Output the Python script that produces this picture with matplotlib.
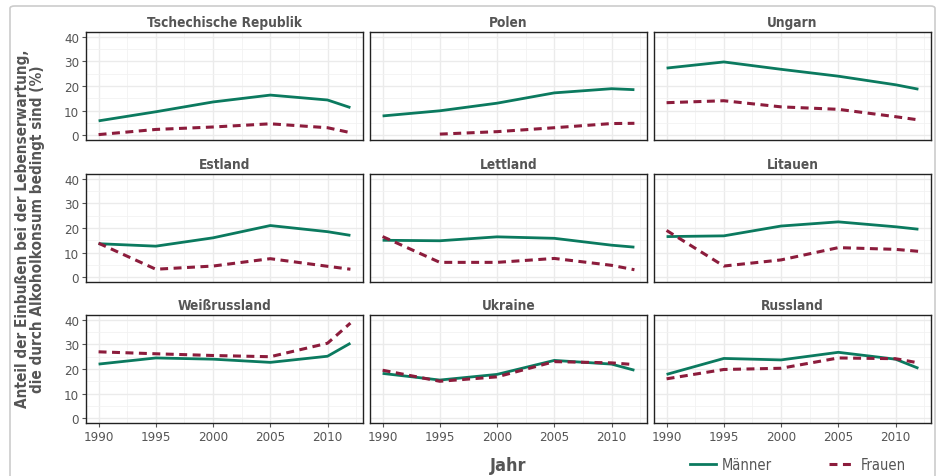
import numpy as np
import matplotlib
matplotlib.use("Agg")
import matplotlib.pyplot as plt
from matplotlib.lines import Line2D
from matplotlib.patches import FancyBboxPatch

plt.rcParams['font.family'] = ['DejaVu Sans']
plt.rcParams['font.stretch'] = 'condensed'

# Anteil der Einbußen bei der Lebenserwartung durch Alkohol (%)
years = [1990, 1995, 2000, 2005, 2010, 2012]
countries = ["Tschechische Republik", "Polen", "Ungarn",
             "Estland", "Lettland", "Litauen",
             "Weißrussland", "Ukraine", "Russland"]

maenner = {
    "Tschechische Republik": [5.8, 9.5, 13.5, 16.3, 14.3, 11.2],
    "Polen":                 [7.8, 9.9, 13.0, 17.2, 18.9, 18.5],
    "Ungarn":                [27.3, 29.8, 26.8, 24.0, 20.5, 18.7],
    "Estland":               [13.6, 12.6, 16.0, 21.0, 18.5, 17.0],
    "Lettland":              [15.0, 14.8, 16.4, 15.8, 13.0, 12.2],
    "Litauen":               [16.5, 16.8, 20.8, 22.5, 20.5, 19.5],
    "Weißrussland":          [22.0, 24.5, 24.0, 22.7, 25.2, 30.5],
    "Ukraine":               [18.2, 15.5, 17.8, 23.5, 22.0, 19.5],
    "Russland":              [17.8, 24.3, 23.7, 26.8, 24.0, 20.3],
}
frauen = {
    "Tschechische Republik": [0.2, 2.3, 3.3, 4.6, 3.0, 1.0],
    "Polen":                 [np.nan, 0.4, 1.4, 3.0, 4.7, 4.8],
    "Ungarn":                [13.2, 14.0, 11.5, 10.5, 7.5, 6.2],
    "Estland":               [13.8, 3.2, 4.5, 7.5, 4.4, 3.2],
    "Lettland":              [16.5, 6.0, 6.0, 7.6, 4.8, 3.0],
    "Litauen":               [19.0, 4.5, 7.0, 12.0, 11.3, 10.5],
    "Weißrussland":          [27.0, 26.2, 25.5, 25.0, 30.5, 38.7],
    "Ukraine":               [19.5, 15.0, 16.8, 23.0, 22.5, 21.8],
    "Russland":              [16.0, 19.8, 20.3, 24.5, 24.2, 22.5],
}

green = "#0b7a5f"
red = "#8c1c3c"
txt = "#555555"

fig = plt.figure(figsize=(9.38, 4.77), dpi=100)

# outer frame
fig.patches.append(FancyBboxPatch((10/938, -0.05), 925/938, 1 - 7/477 + 0.05,
                                  boxstyle="round,pad=0,rounding_size=0.005",
                                  transform=fig.transFigure, fill=False,
                                  edgecolor="#cccccc", linewidth=1.2))

lefts = [86/938, 370/938, 654/938]
bottoms = [1 - 141/477, 1 - 283/477, 1 - 424/477]
w = 277/938
h = 108/477

for i, c in enumerate(countries):
    r, col = divmod(i, 3)
    ax = fig.add_axes([lefts[col], bottoms[r], w, h])
    ax.set_xlim(1988.9, 2013.1)
    ax.set_ylim(-2, 42)
    ax.set_xticks([1990, 1995, 2000, 2005, 2010])
    ax.set_xticks(np.arange(1992.5, 2013, 5), minor=True)
    ax.set_yticks([0, 10, 20, 30, 40])
    ax.set_yticks([5, 15, 25, 35], minor=True)
    ax.grid(True, which="major", color="#ebebeb", linewidth=1.0)
    ax.grid(True, which="minor", color="#f2f2f2", linewidth=0.6)
    ax.set_axisbelow(True)
    for s in ax.spines.values():
        s.set_color("#222222")
        s.set_linewidth(1.0)
    ax.tick_params(which="major", length=3, color="#555555", labelcolor=txt,
                   labelsize=9.5, pad=2)
    ax.tick_params(which="minor", length=0)
    if col != 0:
        ax.set_yticklabels([])
        ax.tick_params(axis="y", length=0)
    if r != 2:
        ax.set_xticklabels([])
        ax.tick_params(axis="x", length=0)
    ax.plot(years, maenner[c], color=green, linewidth=2.0, solid_capstyle="butt")
    ax.plot(years, frauen[c], color=red, linewidth=2.2, linestyle=(0, (2.6, 1.8)))
    ax.set_title(c, fontsize=9.8, fontweight="bold", color=txt, pad=4)

fig.text(30/938, 0.52, "Anteil der Einbußen bei der Lebenserwartung,\ndie durch Alkoholkonsum bedingt sind (%)",
         rotation=90, ha="center", va="center", fontsize=11, fontweight="bold",
         color=txt, linespacing=1.05)
fig.text(508/938, 1 - 466/477, "Jahr", ha="center", va="center",
         fontsize=13, fontweight="bold", color=txt)

handles = [Line2D([], [], color=green, linewidth=2.0),
           Line2D([], [], color=red, linewidth=2.2, linestyle=(0, (2.6, 1.8)))]
fig.legend(handles, ["Männer", "Frauen"], loc="center", ncol=2,
           bbox_to_anchor=(798/938, 1 - 466/477), frameon=False,
           fontsize=10.5, labelcolor=txt, handlelength=1.8, columnspacing=3.9,
           handletextpad=0.4)

fig.savefig("out.png", dpi=100)
